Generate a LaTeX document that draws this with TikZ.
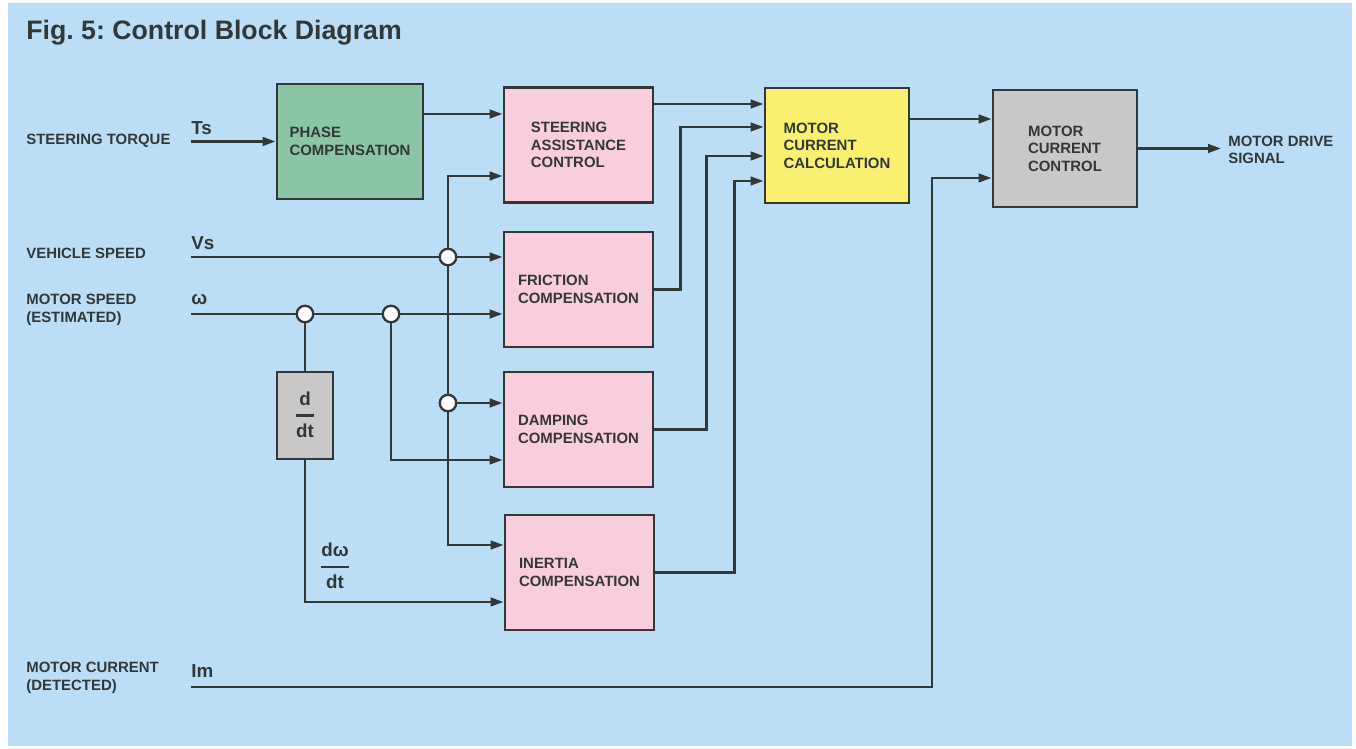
\documentclass[tikz,border=0pt]{standalone}
\usepackage{fontspec}
\setmainfont{Liberation Sans}
\usetikzlibrary{arrows.meta, positioning}
\frenchspacing
\definecolor{bgblue}{RGB}{188,221,246}
\definecolor{inkgray}{RGB}{50,56,56}
\definecolor{phasegreen}{RGB}{138,198,166}
\definecolor{blkpink}{RGB}{250,205,222}
\definecolor{calcyellow}{RGB}{248,240,110}
\definecolor{ctrlgray}{RGB}{200,200,200}
\tikzset{
  blk/.style={rectangle, draw=inkgray, line width=1.6pt, align=left, text=inkgray,
              font=\bfseries\fontsize{8.5}{9.9}\selectfont, inner sep=0pt,
              minimum width=2.98cm, minimum height=2.3cm},
  greenb/.style={blk, fill=phasegreen},
  pinkb/.style={blk, fill=blkpink},
  yellowb/.style={blk, fill=calcyellow},
  grayb/.style={blk, fill=ctrlgray},
  sig/.style={-{Triangle[length=2.6mm, width=1.7mm]}, line width=1.5pt, draw=inkgray},
  wire/.style={line width=1.5pt, draw=inkgray},
  junc/.style={circle, draw=inkgray, fill=white, line width=1.3pt, minimum size=0.33cm, inner sep=0pt},
  inlbl/.style={font=\bfseries\fontsize{8.5}{9.9}\selectfont, text=inkgray, align=left,
                anchor=west, inner sep=0pt},
  symlbl/.style={font=\bfseries\fontsize{10.7}{12}\selectfont, text=inkgray, anchor=base west,
                 inner sep=0pt},
  figtitle/.style={font=\bfseries\fontsize{15.2}{18}\selectfont, text=inkgray,
                   anchor=base west, inner sep=0pt},
}
\newcommand{\blkfrac}[2]{{\setlength{\arrayrulewidth}{1.5pt}\renewcommand{\arraystretch}{1.4}%
  \begin{tabular}{@{}c@{}}#1\\\hline #2\end{tabular}}}

\begin{document}
\begin{tikzpicture}[x=0.02cm, y=-0.02cm]
  \fill[white] (0,0) rectangle (1356,749);
  \fill[bgblue] (8,3) rectangle (1352,746);
  \node[figtitle] (ttl) at (26,40) {Fig. 5: Control Block Diagram};

  % blocks
  \node[greenb, minimum width=2.92cm] (phase) at (350,141.5) {PHASE\\COMPENSATION};
  \node[pinkb] (sac) at (578.5,145) {STEERING\\ASSISTANCE\\CONTROL};
  \node[pinkb] (fric) at (578.5,289.5) {FRICTION\\COMPENSATION};
  \node[pinkb] (damp) at (578.5,429.5) {DAMPING\\COMPENSATION};
  \node[pinkb] (inert) at (579.5,572.5) {INERTIA\\COMPENSATION};
  \node[yellowb, minimum width=2.88cm] (mcalc) at (837,145.5) {MOTOR\\CURRENT\\CALCULATION};
  \node[grayb, minimum width=2.88cm, minimum height=2.34cm] (mctrl) at (1065,148.5) {MOTOR\\CURRENT\\CONTROL};
  \node[grayb, minimum width=1.12cm, minimum height=1.74cm, align=center,
        font=\bfseries\fontsize{10.7}{12}\selectfont] (ddt) at (305,415.5) {\blkfrac{d}{dt}};

  % signal labels
  \node[inlbl] (tq) at (26,141) {STEERING TORQUE};
  \node[inlbl] (vspd) at (26,253) {VEHICLE SPEED};
  \node[inlbl] (mspd) at (26,310) {MOTOR SPEED\\(ESTIMATED)};
  \node[inlbl] (mcur) at (26,678) {MOTOR CURRENT\\(DETECTED)};
  \node[inlbl] (drv) at (1228,150) {MOTOR DRIVE\\SIGNAL};
  \node[symlbl] (ts) at (191,135) {Ts};
  \node[symlbl] (vs) at (191,250) {Vs};
  \node[symlbl] (om) at (191,305) {ω};
  \node[symlbl] (im) at (191,677) {Im};
  \node[symlbl, anchor=center] (dwdt) at (335,567) {\blkfrac{dω}{dt}};

  % inputs, junctions and ports
  \coordinate (tsin) at (191,141.5);
  \coordinate (vsin) at (191,257);
  \coordinate (win) at (191,314);
  \coordinate (imin) at (191,687);
  \coordinate (imbend) at (932,687);
  \coordinate (drive) at (1221,148.5);
  \node[junc] (jv) at (448,257) {};
  \node[junc] (jd) at (448,403) {};
  \node[junc] (jw1) at (305,314) {};
  \node[junc] (jw2) at (391,314) {};
  \coordinate (phout) at ([yshift=.55cm]phase.east);
  \coordinate (sacin) at ([yshift=-.62cm]sac.west);
  \coordinate (sacout) at ([yshift=.82cm]sac.east);
  \coordinate (dampin) at ([yshift=-.61cm]damp.west);
  \coordinate (inin1) at ([yshift=.55cm]inert.west);
  \coordinate (inin2) at ([yshift=-.59cm]inert.west);
  \coordinate (mcin2) at ([yshift=.37cm]mcalc.west);
  \coordinate (mcin3) at ([yshift=-.21cm]mcalc.west);
  \coordinate (mcin4) at ([yshift=-.71cm]mcalc.west);
  \coordinate (mcout) at ([yshift=.53cm]mcalc.east);
  \coordinate (ctin2) at ([yshift=-.59cm]mctrl.west);

  % connectors
  \draw[sig] (tsin) -- (phase.west);
  \draw[sig] (phout) -- (phout -| sac.west);
  \draw[wire] (vsin) -- (jv);
  \draw[sig] (jv) -- (jv -| fric.west);
  \draw[sig] (jv) |- (sacin);
  \draw[wire] (jv) -- (jd);
  \draw[sig] (jd) -- (jd -| damp.west);
  \draw[sig] (jd) |- (inin1);
  \draw[wire] (win) -- (jw1);
  \draw[wire] (jw1) -- (jw2);
  \draw[sig] (jw2) -- (jw2 -| fric.west);
  \draw[wire] (jw1) -- (ddt.north);
  \draw[sig] (ddt.south) |- (inin2);
  \draw[sig] (jw2) |- (dampin);
  \draw[sig] (sacout) -- (sacout -| mcalc.west);
  \draw[sig] (fric.east) -- ++(26,0) |- (mcin2);
  \draw[sig] (damp.east) -- ++(52,0) |- (mcin3);
  \draw[sig] (inert.east) -- ++(79,0) |- (mcin4);
  \draw[sig] (mcout) -- (mcout -| mctrl.west);
  \draw[sig] (imin) -- (imbend) |- (ctin2);
  \draw[sig] (mctrl.east) -- (drive);
\end{tikzpicture}
\end{document}
